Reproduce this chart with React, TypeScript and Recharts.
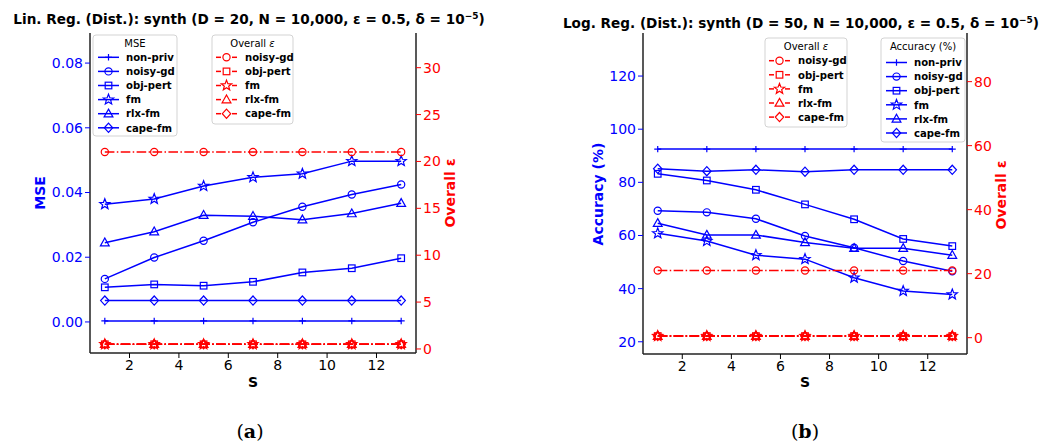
import React from 'react';
import { LineChart, Line, XAxis, YAxis } from 'recharts';

const FONT = '"DejaVu Sans", sans-serif';
const BLUE = '#0000ff';
const RED = '#ff0000';

const sValues = [1, 3, 5, 7, 9, 11, 13];
const sTicks = [2, 4, 6, 8, 10, 12];

const methodNames = ['non-priv', 'noisy-gd', 'obj-pert', 'fm', 'rlx-fm', 'cape-fm'];
const methodShapes = ['plus', 'circle', 'square', 'star', 'triangle', 'diamond'];
const methodKeys = ['nonPriv', 'noisyGd', 'objPert', 'fm', 'rlxFm', 'capeFm'];

// (a) Lin. Reg. - MSE
const linNonPriv = [0.0003, 0.0003, 0.0003, 0.0003, 0.0003, 0.0003, 0.0003];
const linNoisyGd = [0.0133, 0.0199, 0.0251, 0.0308, 0.0356, 0.0394, 0.0425];
const linObjPert = [0.0107, 0.0116, 0.0112, 0.0124, 0.0153, 0.0166, 0.0197];
const linFm = [0.0364, 0.038, 0.042, 0.0447, 0.0458, 0.0497, 0.0497];
const linRlxFm = [0.0245, 0.0279, 0.033, 0.0327, 0.0316, 0.0335, 0.0367];
const linCapeFm = [0.0066, 0.0066, 0.0066, 0.0066, 0.0066, 0.0066, 0.0066];
// (a) overall epsilon
const linEpsNoisyGd = [21, 21, 21, 21, 21, 21, 21];
const linEpsObjPert = [0.5, 0.5, 0.5, 0.5, 0.5, 0.5, 0.5];
const linEpsFm = [0.5, 0.5, 0.5, 0.5, 0.5, 0.5, 0.5];
const linEpsRlxFm = [0.5, 0.5, 0.5, 0.5, 0.5, 0.5, 0.5];
const linEpsCapeFm = [0.5, 0.5, 0.5, 0.5, 0.5, 0.5, 0.5];
const mseTicks = [0, 0.02, 0.04, 0.06, 0.08];
const linEpsTicks = [0, 5, 10, 15, 20, 25, 30];

// (b) Log. Reg. - accuracy
const logNonPriv = [92.5, 92.5, 92.5, 92.5, 92.5, 92.5, 92.5];
const logNoisyGd = [69.3, 68.7, 66.3, 59.8, 55.4, 50.4, 46.5];
const logObjPert = [83.2, 80.7, 77.2, 71.7, 66.1, 58.7, 56.0];
const logFm = [60.8, 57.9, 52.6, 51.1, 44.1, 39.1, 37.8];
const logRlxFm = [64.6, 60.2, 60.2, 57.4, 55.2, 55.2, 52.6];
const logCapeFm = [85.1, 84.2, 84.7, 84.0, 84.7, 84.7, 84.7];
// (b) overall epsilon
const logEpsNoisyGd = [21, 21, 21, 21, 21, 21, 21];
const logEpsObjPert = [0.5, 0.5, 0.5, 0.5, 0.5, 0.5, 0.5];
const logEpsFm = [0.5, 0.5, 0.5, 0.5, 0.5, 0.5, 0.5];
const logEpsRlxFm = [0.5, 0.5, 0.5, 0.5, 0.5, 0.5, 0.5];
const logEpsCapeFm = [0.5, 0.5, 0.5, 0.5, 0.5, 0.5, 0.5];
const accTicks = [20, 40, 60, 80, 100, 120];
const logEpsTicks = [0, 20, 40, 60, 80];

const buildRows = (metric: number[][], eps: number[][]) =>
  sValues.map((s, i) => {
    const row: any = { s };
    methodKeys.forEach((k, j) => {
      row[k] = metric[j][i];
    });
    methodKeys.slice(1).forEach((k, j) => {
      row['eps_' + k] = eps[j][i];
    });
    return row;
  });

const linData = buildRows(
  [linNonPriv, linNoisyGd, linObjPert, linFm, linRlxFm, linCapeFm],
  [linEpsNoisyGd, linEpsObjPert, linEpsFm, linEpsRlxFm, linEpsCapeFm]
);
const logData = buildRows(
  [logNonPriv, logNoisyGd, logObjPert, logFm, logRlxFm, logCapeFm],
  [logEpsNoisyGd, logEpsObjPert, logEpsFm, logEpsRlxFm, logEpsCapeFm]
);

const Marker = ({ shape, cx, cy, color }: any) => {
  if (cx == null || cy == null) return null;
  const common = { fill: 'none', stroke: color, strokeWidth: 1.2 };
  if (shape === 'plus') {
    return <path d={`M${cx - 3.5},${cy}H${cx + 3.5}M${cx},${cy - 3.2}V${cy + 3.2}`} {...common} />;
  }
  if (shape === 'circle') return <circle cx={cx} cy={cy} r={3.6} {...common} />;
  if (shape === 'square') return <rect x={cx - 3.3} y={cy - 3.3} width={6.6} height={6.6} {...common} />;
  if (shape === 'triangle') {
    return <polygon points={`${cx},${cy - 4.6} ${cx + 4.4},${cy + 3.2} ${cx - 4.4},${cy + 3.2}`} {...common} />;
  }
  if (shape === 'diamond') {
    return <polygon points={`${cx},${cy - 4.6} ${cx + 4.2},${cy} ${cx},${cy + 4.6} ${cx - 4.2},${cy}`} {...common} />;
  }
  // star
  const pts: string[] = [];
  for (let i = 0; i < 10; i++) {
    const r = i % 2 === 0 ? 5.4 : 2.3;
    const a = -Math.PI / 2 + (i * Math.PI) / 5;
    pts.push(`${cx + r * Math.cos(a)},${cy + r * Math.sin(a)}`);
  }
  return <polygon points={pts.join(' ')} {...common} />;
};

const dotFor = (shape: string, color: string) => (p: any) =>
  <Marker key={`${shape}-${color}-${p.index}`} shape={shape} cx={p.cx} cy={p.cy} color={color} />;

const Panel = ({ x, width, margin, data, leftDomain, leftTicks, leftFmt, rightDomain, rightTicks }: any) => (
  <div style={{ position: 'absolute', left: x, top: 0 }}>
    <LineChart width={width} height={444} data={data} margin={margin}>
      <XAxis
        dataKey="s"
        type="number"
        domain={[0.4, 13.6]}
        ticks={sTicks}
        interval={0}
        allowDataOverflow
        height={30}
        tickSize={5}
        tickMargin={2}
        tick={{ fill: '#000', fontSize: 14, fontFamily: FONT }}
        tickLine={{ stroke: '#000' }}
        axisLine={{ stroke: '#222', strokeWidth: 1.5 }}
      />
      <XAxis
        xAxisId="top"
        dataKey="s"
        orientation="top"
        type="number"
        domain={[0.4, 13.6]}
        height={0}
        tick={false}
        tickLine={false}
        axisLine={{ stroke: '#222', strokeWidth: 1.5 }}
      />
      <YAxis
        yAxisId="l"
        type="number"
        domain={leftDomain}
        ticks={leftTicks}
        interval={0}
        allowDataOverflow
        width={60}
        tickSize={5}
        tickMargin={2}
        tickFormatter={leftFmt}
        tick={{ fill: BLUE, fontSize: 14, fontFamily: FONT }}
        tickLine={{ stroke: BLUE }}
        axisLine={{ stroke: '#222', strokeWidth: 1.5 }}
      />
      <YAxis
        yAxisId="r"
        orientation="right"
        type="number"
        domain={rightDomain}
        ticks={rightTicks}
        interval={0}
        allowDataOverflow
        width={60}
        tickSize={5}
        tickMargin={2}
        tick={{ fill: RED, fontSize: 14, fontFamily: FONT }}
        tickLine={{ stroke: RED }}
        axisLine={{ stroke: '#222', strokeWidth: 1.5 }}
      />
      {methodKeys.map((k, j) => (
        <Line
          key={k}
          yAxisId="l"
          dataKey={k}
          stroke={BLUE}
          strokeWidth={1.5}
          dot={dotFor(methodShapes[j], BLUE)}
          isAnimationActive={false}
        />
      ))}
      {methodKeys.slice(1).map((k, j) => (
        <Line
          key={'eps_' + k}
          yAxisId="r"
          dataKey={'eps_' + k}
          stroke={RED}
          strokeWidth={1.5}
          strokeDasharray="9.6 2.4 1.5 2.4"
          dot={dotFor(methodShapes[j + 1], RED)}
          isAnimationActive={false}
        />
      ))}
    </LineChart>
  </div>
);

const LegendBox = ({ x, y, w, h, title, rowTop, color, dashed, skipFirst }: any) => {
  const idx = methodNames.map((_, i) => i).filter((i) => !(skipFirst && i === 0));
  return (
    <g>
      <rect x={x} y={y} width={w} height={h} rx={3} fill="#fff" fillOpacity={0.8} stroke="#d3d3d3" />
      <text x={x + w / 2} y={y + 12} textAnchor="middle" fontSize={10} fontFamily={FONT}>
        {title}
      </text>
      {idx.map((m, i) => {
        const cy = y + rowTop + i * 14.1;
        return (
          <g key={methodNames[m]}>
            {dashed ? (
              <g stroke={color} strokeWidth={1.5}>
                <line x1={x + 4} x2={x + 9} y1={cy} y2={cy} />
                <line x1={x + 20} x2={x + 25} y1={cy} y2={cy} />
              </g>
            ) : (
              <line x1={x + 5} x2={x + 26} y1={cy} y2={cy} stroke={color} strokeWidth={1.5} />
            )}
            <Marker shape={methodShapes[m]} cx={x + (dashed ? 14.5 : 15.5)} cy={cy} color={color} />
            <text x={x + 33} y={cy + 3.7} fontSize={10.1} fontWeight="bold" fontFamily={FONT}>
              {methodNames[m]}
            </text>
          </g>
        );
      })}
    </g>
  );
};

const epsTitle = (
  <>
    Overall <tspan fontStyle="italic">ε</tspan>
  </>
);

export default function App() {
  return (
    <div style={{ position: 'absolute', left: 0, top: 0, width: 1061, height: 444, background: '#fff' }}>
      <Panel
        x={0}
        width={530}
        margin={{ top: 33, right: 54, bottom: 61, left: 30 }}
        data={linData}
        leftDomain={[-0.0096, 0.0893]}
        leftTicks={mseTicks}
        leftFmt={(v: number) => v.toFixed(2)}
        rightDomain={[-0.43, 33.7]}
        rightTicks={linEpsTicks}
      />
      <Panel
        x={530}
        width={531}
        margin={{ top: 33, right: 34, bottom: 60, left: 53 }}
        data={logData}
        leftDomain={[15.4, 136.2]}
        leftTicks={accTicks}
        leftFmt={(v: number) => String(v)}
        rightDomain={[-5.1, 95.2]}
        rightTicks={logEpsTicks}
      />
      <svg
        width={1061}
        height={444}
        style={{ position: 'absolute', left: 0, top: 0, pointerEvents: 'none' }}
        fontFamily={FONT}
      >
        <text x={249} y={24} textAnchor="middle" fontWeight="bold" fontSize={13.6}>
          Lin. Reg. (Dist.): synth (D = 20, N = 10,000, ε = 0.5, δ = 10
          <tspan dy={-5} fontSize={9}>−5</tspan>
          <tspan dy={5}>)</tspan>
        </text>
        <text x={801} y={28} textAnchor="middle" fontWeight="bold" fontSize={13.6}>
          Log. Reg. (Dist.): synth (D = 50, N = 10,000, ε = 0.5, δ = 10
          <tspan dy={-5} fontSize={9}>−5</tspan>
          <tspan dy={5}>)</tspan>
        </text>

        <text transform="translate(45,193) rotate(-90)" textAnchor="middle" fontWeight="bold" fontSize={14} fill={BLUE}>
          MSE
        </text>
        <text transform="translate(455,193) rotate(-90)" textAnchor="middle" fontWeight="bold" fontSize={14} fill={RED}>
          Overall ε
        </text>
        <text transform="translate(603,194) rotate(-90)" textAnchor="middle" fontWeight="bold" fontSize={14} fill={BLUE}>
          Accuracy (%)
        </text>
        <text transform="translate(1006,195) rotate(-90)" textAnchor="middle" fontWeight="bold" fontSize={14} fill={RED}>
          Overall ε
        </text>

        <text x={253} y={387} textAnchor="middle" fontWeight="bold" fontSize={14}>S</text>
        <text x={805} y={387} textAnchor="middle" fontWeight="bold" fontSize={14}>S</text>

        <text x={250} y={438} textAnchor="middle" fontSize={19} fontFamily='"DejaVu Serif", serif'>
          (<tspan fontWeight="bold">a</tspan>)
        </text>
        <text x={805} y={438} textAnchor="middle" fontSize={19} fontFamily='"DejaVu Serif", serif'>
          (<tspan fontWeight="bold">b</tspan>)
        </text>

        <LegendBox x={93} y={35} w={84} h={101} title="MSE" rowTop={22.3} color={BLUE} />
        <LegendBox x={212} y={35} w={81} h={89} title={epsTitle} rowTop={22.3} color={RED} dashed skipFirst />
        <LegendBox x={765} y={38} w={82} h={89} title={epsTitle} rowTop={22.7} color={RED} dashed skipFirst />
        <LegendBox x={881} y={38} w={84} h={104} title="Accuracy (%)" rowTop={24.5} color={BLUE} />
      </svg>
    </div>
  );
}
